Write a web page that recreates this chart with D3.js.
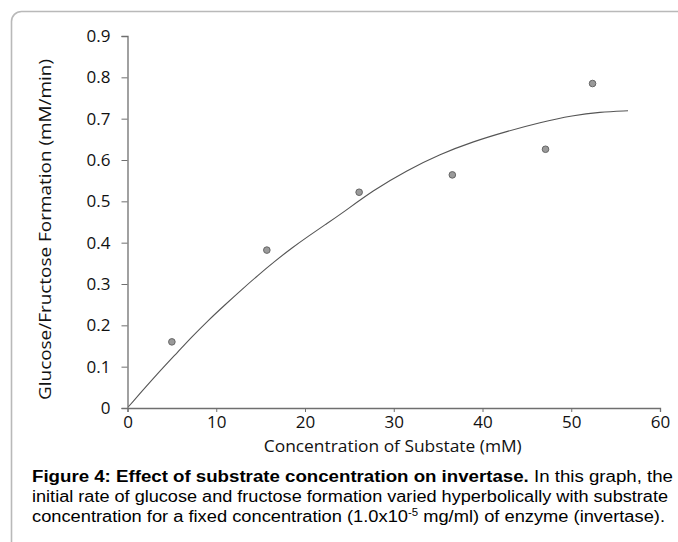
<!DOCTYPE html>
<html>
<head>
<meta charset="utf-8">
<script src="https://cdn.jsdelivr.net/npm/d3@7"></script>
<style>
  html, body { margin: 0; padding: 0; background: #fff; }
  svg { display: block; }
</style>
</head>
<body>
<svg id="chart" width="678" height="542"></svg>
<script>
// ---- data ----
const substrateConc = [5.0, 15.7, 26.1, 36.6, 47.1, 52.4];
const formationRate = [0.160, 0.382, 0.522, 0.564, 0.626, 0.785];

// trend line
const trendX = [0.1, 3.5, 5.7, 7.2, 9.1, 11.0, 12.9, 14.7, 16.6, 18.5, 20.4, 22.3, 24.1, 27.7, 31.5, 35.2, 39.0, 42.7, 46.5, 50.2, 53.2, 56.4];
const trendY = [0.003, 0.086, 0.136, 0.171, 0.212, 0.250, 0.287, 0.321, 0.355, 0.387, 0.416, 0.444, 0.470, 0.527, 0.575, 0.614, 0.645, 0.669, 0.691, 0.708, 0.716, 0.719];

const xTicks = [0, 10, 20, 30, 40, 50, 60];
const yTicks = [0, 0.1, 0.2, 0.3, 0.4, 0.5, 0.6, 0.7, 0.8, 0.9];
const xTitle = "Concentration of Substate (mM)";
const yTitle = "Glucose/Fructose Formation (mM/min)";
const captionBold = "Figure 4: Effect of substrate concentration on invertase.";
const captionLine1 = " In this graph, the";
const captionLine2 = "initial rate of glucose and fructose formation varied hyperbolically with substrate";
const captionLine3a = "concentration for a fixed concentration (1.0x10";
const captionSup = "-5";
const captionLine3b = " mg/ml) of enzyme (invertase).";

// ---- drawing ----
const svg = d3.select("#chart");
const axisFont = "'Open Sans', 'Noto Sans', sans-serif";
const capFont = "'Liberation Sans', Arial, sans-serif";

// frame
svg.append("rect")
  .attr("x", 11.5).attr("y", 11.5)
  .attr("width", 720).attr("height", 620)
  .attr("rx", 10).attr("ry", 10)
  .attr("fill", "none")
  .attr("stroke", "#b9b9b9")
  .attr("stroke-width", 1.6);

const x = d3.scaleLinear().domain([0, 60]).range([127.5, 660]);
const y = d3.scaleLinear().domain([0, 0.9]).range([408, 36]);

const axisColor = "#6f6f6f";

// x axis
const gx = svg.append("g")
  .attr("transform", `translate(0,${y(0)})`)
  .call(d3.axisBottom(x).tickValues(xTicks).tickSize(4).tickPadding(6).tickFormat(d3.format("d")));
// y axis
const gy = svg.append("g")
  .attr("transform", `translate(${x(0)},0)`)
  .call(d3.axisLeft(y).tickValues(yTicks).tickSize(6).tickPadding(11)
        .tickFormat(d => d === 0 ? "0" : d3.format(".1f")(d)));

[gx, gy].forEach(g => {
  g.select(".domain").attr("stroke", axisColor).attr("stroke-width", 1.3);
  g.selectAll(".tick line").attr("stroke", axisColor).attr("stroke-width", 1);
  g.selectAll(".tick text")
    .attr("fill", "#111")
    .style("font-family", axisFont)
    .style("font-size", "17px");
});
gx.selectAll(".tick text").attr("dy", "0.71em").attr("y", 8);

// trend line
const trend = trendX.map((v, i) => [v, trendY[i]]);
svg.append("path")
  .datum(trend)
  .attr("fill", "none")
  .attr("stroke", "#555")
  .attr("stroke-width", 1.1)
  .attr("d", d3.line().x(d => x(d[0])).y(d => y(d[1])).curve(d3.curveBasis));

// points
const pts = substrateConc.map((v, i) => [v, formationRate[i]]);
svg.append("g").selectAll("circle")
  .data(pts).join("circle")
  .attr("cx", d => x(d[0]))
  .attr("cy", d => y(d[1]))
  .attr("r", 3.3)
  .attr("fill", "#9a9a9a")
  .attr("stroke", "#666")
  .attr("stroke-width", 1);

// axis titles
svg.append("text")
  .attr("x", (x(0) + x(60)) / 2 - 1)
  .attr("y", 452)
  .attr("text-anchor", "middle")
  .attr("textLength", 258)
  .attr("lengthAdjust", "spacingAndGlyphs")
  .style("font-family", axisFont)
  .style("font-size", "17px")
  .attr("fill", "#111")
  .text(xTitle);

svg.append("text")
  .attr("transform", "translate(51,229.5) rotate(-90)")
  .attr("text-anchor", "middle")
  .attr("textLength", 341)
  .attr("lengthAdjust", "spacingAndGlyphs")
  .style("font-family", axisFont)
  .style("font-size", "17px")
  .attr("fill", "#111")
  .text(yTitle);

// caption
const cap = svg.append("g")
  .style("font-family", capFont)
  .style("font-size", "16px")
  .attr("fill", "#000");

const l1 = cap.append("text").attr("x", 32).attr("y", 482)
  .attr("textLength", 641).attr("lengthAdjust", "spacingAndGlyphs");
l1.append("tspan").attr("font-weight", "bold").text(captionBold);
l1.append("tspan").text(captionLine1);

cap.append("text").attr("x", 32).attr("y", 502)
  .attr("textLength", 636).attr("lengthAdjust", "spacingAndGlyphs")
  .text(captionLine2);

const l3 = cap.append("text").attr("x", 32).attr("y", 522)
  .attr("textLength", 633).attr("lengthAdjust", "spacingAndGlyphs");
l3.append("tspan").text(captionLine3a);
l3.append("tspan").attr("dy", -6).style("font-size", "10px").text(captionSup);
l3.append("tspan").attr("dy", 6).text(captionLine3b);
</script>
</body>
</html>
